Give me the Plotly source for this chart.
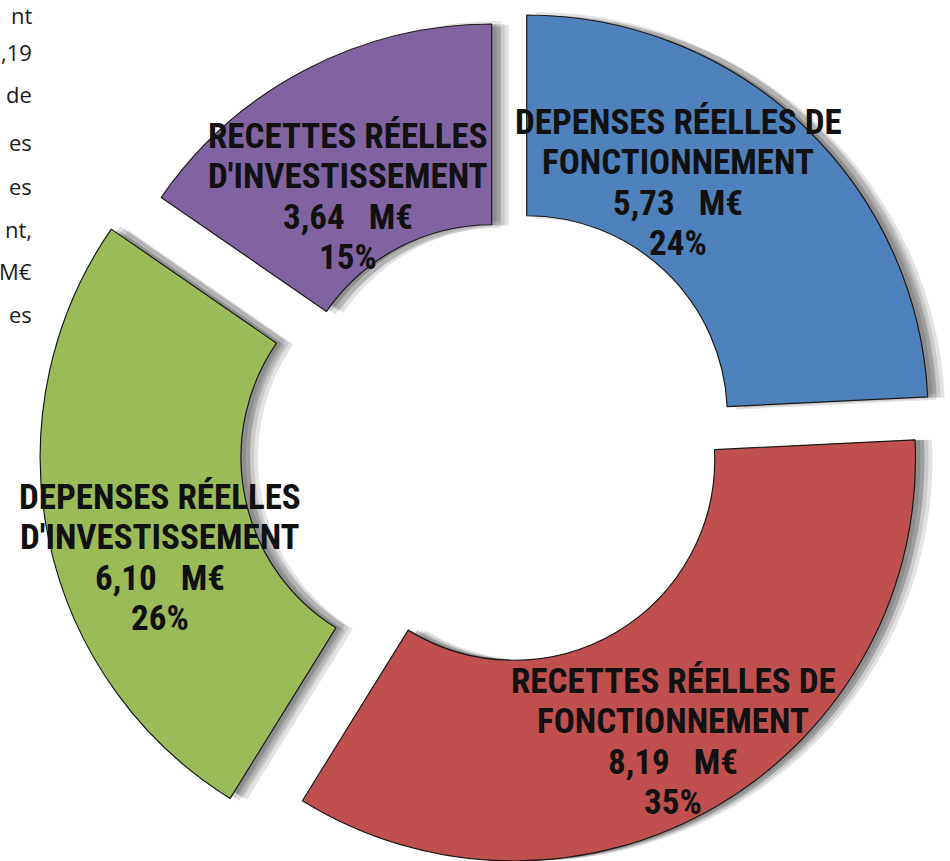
import plotly.graph_objects as go

# ---------------- data ----------------
categories = [
    ["DEPENSES RÉELLES DE", "FONCTIONNEMENT"],
    ["RECETTES RÉELLES DE", "FONCTIONNEMENT"],
    ["DEPENSES RÉELLES", "D'INVESTISSEMENT"],
    ["RECETTES RÉELLES", "D'INVESTISSEMENT"],
]
values_meur = [5.73, 8.19, 6.10, 3.64]
colors = ["#4F81BD", "#C0504D", "#9BBB59", "#8064A2"]
side_text = ["nt", ",19", "de", "es", "es", "nt,", "M€", "es"]

# ---------------- layout helpers ----------------
W, H = 950, 861
R = 401.5        # outer radius in px
HOLE = 0.5
# pixel centre of each exploded slice
apex = [(526.7, 416.5), (514.0, 464.8), (441.7, 457.2), (491.7, 425.5)]
label_pos = [(678, 183), (673, 742), (160, 558), (348, 197)]
LINE_STEP = 40.3
side_y = [15, 52, 94, 142, 186, 229, 271, 314]
side_x = 34
shadow_offsets = [(5, 0), (9, -3), (9, 3), (13, 0), (17, 1)]
shadow_color = "rgba(0,0,0,0.11)"
FONT = "Liberation Sans Narrow, Arial Narrow, Roboto Condensed, DejaVu Sans Condensed, sans-serif"


def px(x, y):
    return x / W, 1 - y / H


def dom(cx, cy):
    cx = min(max(cx, R), W - R)
    cy = min(max(cy, R), H - R)
    return dict(x=[(cx - R) / W, (cx + R) / W],
                y=[max(0.0, 1 - (cy + R) / H), min(1.0, 1 - (cy - R) / H)])


def slice_trace(idx, color, line_color, line_w, cx, cy):
    n = len(values_meur)
    cols = ["rgba(0,0,0,0)"] * n
    lcols = ["rgba(0,0,0,0)"] * n
    lws = [0] * n
    cols[idx] = color
    lcols[idx] = line_color
    lws[idx] = line_w
    return go.Pie(
        values=values_meur,
        labels=[" ".join(c) for c in categories],
        sort=False,
        direction="clockwise",
        rotation=0,
        hole=HOLE,
        marker=dict(colors=cols, line=dict(color=lcols, width=lws)),
        textinfo="none",
        hoverinfo="skip",
        showlegend=False,
        domain=dom(cx, cy),
    )


fig = go.Figure()

# shadows
for i in range(len(values_meur)):
    ax, ay = apex[i]
    for dx, dy in shadow_offsets:
        fig.add_trace(slice_trace(i, shadow_color, "rgba(0,0,0,0)", 0, ax + dx, ay + dy))

# slices
for i in range(len(values_meur)):
    ax, ay = apex[i]
    fig.add_trace(slice_trace(i, colors[i], "#1a1a1a", 1.2, ax, ay))

# labels
total = sum(values_meur)
annotations = []
for i, cat in enumerate(categories):
    val = f"{values_meur[i]:.2f}".replace(".", ",")
    pct = round(values_meur[i] / total * 100)
    lines = cat + [f"{val}\u00a0\u00a0\u00a0M€", f"{pct}%"]
    lx, ly = label_pos[i]
    for k, line in enumerate(lines):
        yy = ly + (k - (len(lines) - 1) / 2) * LINE_STEP
        x, y = px(lx, yy)
        annotations.append(dict(
            text=line, x=x, y=y, xref="paper", yref="paper",
            xanchor="center", yanchor="middle", showarrow=False,
            font=dict(family=FONT, size=35, color="#111111", weight="bold"),
        ))

for t, yy in zip(side_text, side_y):
    x, y = px(side_x, yy)
    annotations.append(dict(
        text=t, x=x, y=y, xref="paper", yref="paper",
        xanchor="right", yanchor="middle", showarrow=False,
        font=dict(family="Open Sans, Lato, sans-serif", size=22, color="#1a1a1a"),
    ))

fig.update_layout(
    width=W, height=H,
    margin=dict(l=0, r=0, t=0, b=0),
    paper_bgcolor="white", plot_bgcolor="white",
    annotations=annotations,
)

fig.write_html(
    "out.html",
    config={"displayModeBar": False},
    post_script="document.body.style.margin='0';document.body.style.overflow='hidden';",
)
